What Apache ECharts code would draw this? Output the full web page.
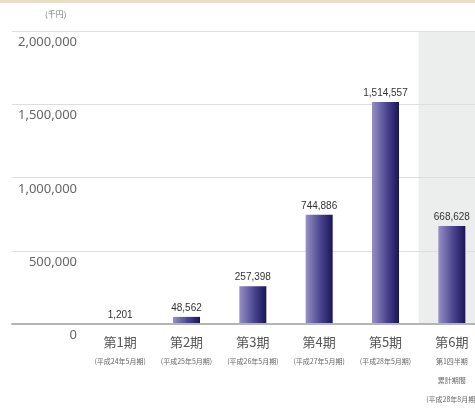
<!DOCTYPE html>
<html><head><meta charset="utf-8">
<script src="https://cdn.jsdelivr.net/npm/echarts@6/dist/echarts.min.js"></script>
<style>html,body{margin:0;padding:0;background:#fff;overflow:hidden}#c{width:486px;height:409px}</style>
</head><body><div id="c"></div>
<script>
const categories = ['第1期', '第2期', '第3期', '第4期', '第5期', '第6期'];
const periods = ['(平成24年5月期)', '(平成25年5月期)', '(平成26年5月期)', '(平成27年5月期)', '(平成28年5月期)', '第1四半期\n累計期間\n(平成28年8月期)'];
const values = [1201, 48562, 257398, 744886, 1514557, 668628];
const yMin = 0, yMax = 2000000, yStep = 500000;
const unitLabel = '(千円)';

const chart = echarts.init(document.getElementById('c'), null, {renderer: 'canvas'});
const fmt = v => v.toLocaleString('en-US');
const cjk = '"Noto Sans CJK JP", "Noto Sans", sans-serif';
const narrow = '"Liberation Sans Narrow", "Liberation Sans", sans-serif';

chart.setOption({
  animation: false,
  backgroundColor: '#fff',
  graphic: [
    {type: 'rect', left: 0, top: 0, shape: {width: 486, height: 3}, style: {fill: '#e9dfc6'}, silent: true},
    {type: 'text', left: 45, top: 10, style: {text: unitLabel, fontSize: 8, fill: '#777', fontFamily: cjk}, silent: true}
  ],
  grid: [
    {left: 12, top: 31, right: 0, height: 293},
    {left: 87, top: 31, width: 398, height: 293}
  ],
  xAxis: [
    {gridIndex: 0, type: 'value', min: 0, max: 1, show: true,
     axisLine: {show: true, onZero: false, lineStyle: {color: '#b4b4b4', width: 2}},
     axisTick: {show: false}, axisLabel: {show: false}, splitLine: {show: false}, z: 3},
    {gridIndex: 1, type: 'category', data: categories, z: -1,
     axisLine: {show: false}, axisTick: {show: false},
     splitArea: {show: true, areaStyle: {color: ['rgba(0,0,0,0)', 'rgba(0,0,0,0)', 'rgba(0,0,0,0)', 'rgba(0,0,0,0)', 'rgba(0,0,0,0)', '#eceeed']}},
     axisLabel: {
       interval: 0, margin: 8, color: '#555', fontFamily: cjk,
       formatter: (v, i) => '{a|' + v + '}\n' + periods[i].split('\n').map(s => '{b|' + s + '}').join('\n'),
       rich: {
         a: {fontSize: 13, lineHeight: 20, color: '#555', fontFamily: cjk},
         b: {fontSize: 7, lineHeight: 19, color: '#666', fontFamily: cjk}
       }
     }}
  ],
  yAxis: [
    {gridIndex: 0, type: 'value', min: yMin, max: yMax, interval: yStep,
     axisLine: {show: false}, axisTick: {show: false},
     splitLine: {show: true, lineStyle: {color: '#dedede', width: 1}},
     axisLabel: {inside: false, margin: -65, align: 'right', verticalAlign: 'top', padding: [5, 0, 0, 0],
       fontSize: 13, color: '#666', fontFamily: '"Noto Sans", sans-serif',
       formatter: v => fmt(v)}},
    {gridIndex: 1, type: 'value', min: yMin, max: yMax, interval: yStep, show: false, splitLine: {show: false}}
  ],
  series: [{
    type: 'bar', xAxisIndex: 1, yAxisIndex: 1, data: values, barWidth: 27,
    itemStyle: {color: new echarts.graphic.LinearGradient(0, 0, 1, 0, [
      {offset: 0, color: '#9690c4'}, {offset: 0.55, color: '#4b4590'}, {offset: 1, color: '#1a1458'}])},
    label: {show: true, position: 'top', distance: 4, fontSize: 10, color: '#333', fontFamily: narrow,
      formatter: p => fmt(p.value)}
  }]
});
</script></body></html>
